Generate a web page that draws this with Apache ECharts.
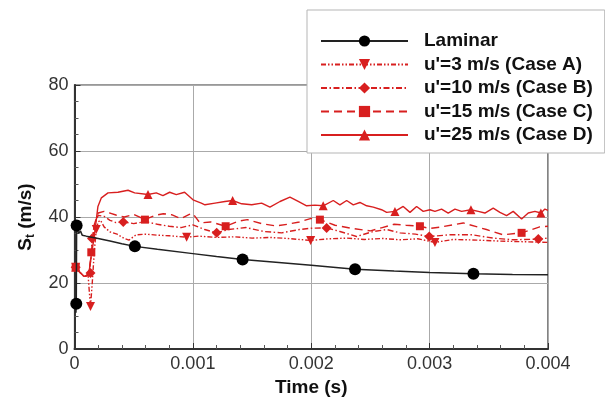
<!DOCTYPE html>
<html>
<head>
<meta charset="utf-8">
<script src="https://cdn.jsdelivr.net/npm/echarts@6/dist/echarts.min.js"></script>
<style>
  html, body { margin: 0; background: #fff; }
  #chart { width: 605px; height: 397px; }
</style>
</head>
<body>
<div id="chart"></div>
<script>
// time in ms (axis labels show seconds), S_t in m/s; third field = 1 where a marker sits
const laminar = [
  [0.012, 11], [0.015, 13.7, 1], [0.018, 37.4, 1], [0.035, 35], [0.05, 35.8], [0.065, 34.5],
  [0.1, 34.2], [0.2, 33.5], [0.3, 32.7], [0.4, 31.9], [0.51, 31.1, 1], [0.7, 30.2], [1.0, 28.9],
  [1.2, 28], [1.42, 27.1, 1], [1.7, 26.3], [2.0, 25.4], [2.37, 24.2, 1], [2.7, 23.6], [3.0, 23.2],
  [3.37, 22.8, 1], [3.7, 22.6], [4.0, 22.5]
];
const caseA = [
  [0.01, 24.8, 1], [0.04, 23.5], [0.08, 22], [0.115, 22.3], [0.128, 16], [0.135, 12.9, 1],
  [0.15, 20], [0.168, 30], [0.184, 36.2, 1], [0.2, 38.5], [0.22, 39], [0.25, 37], [0.3, 35.5],
  [0.36, 34.8], [0.42, 33.5], [0.46, 33], [0.52, 34.6], [0.6, 34.8], [0.7, 34.5], [0.8, 34.3],
  [0.947, 33.9, 1], [1.05, 34.2], [1.2, 33.8], [1.35, 34], [1.5, 33.6], [1.65, 33.8], [1.8, 33.5],
  [1.995, 32.9, 1], [2.15, 33.4], [2.3, 33.6], [2.45, 33.2], [2.6, 33.5], [2.75, 33.1], [2.9, 33.4],
  [3.045, 32.3, 1], [3.2, 33.2], [3.4, 33], [3.6, 32.7], [3.8, 32.5], [4.0, 32.3]
];
const caseB = [
  [0.01, 24.8, 1], [0.05, 23], [0.09, 22], [0.12, 22.5], [0.135, 23, 1], [0.142, 28],
  [0.148, 33.5, 1], [0.17, 38], [0.2, 40.5], [0.25, 40.2], [0.3, 39], [0.35, 38.3],
  [0.412, 38.5, 1], [0.5, 38], [0.6, 38.6], [0.7, 37.8], [0.8, 37.2], [0.9, 36.8], [1.0, 37.6],
  [1.1, 36.2], [1.201, 35.2, 1], [1.3, 36.2], [1.45, 36.8], [1.6, 35.6], [1.75, 35.2], [1.9, 36.2],
  [2.0, 36.6], [2.13, 36.7, 1], [2.242, 35.6], [2.383, 34.1], [2.524, 35.6], [2.637, 36.2],
  [2.75, 35.2], [2.88, 34.8], [2.997, 34.1, 1], [3.171, 34.6], [3.36, 34.6], [3.537, 33.6],
  [3.706, 33.1], [3.918, 33.3, 1], [4.0, 33.6]
];
const caseC = [
  [0.01, 24.8, 1], [0.05, 23], [0.09, 22], [0.125, 23], [0.142, 29.3, 1], [0.17, 38], [0.2, 41.2],
  [0.25, 41.7], [0.3, 41.2], [0.35, 40.6], [0.42, 40], [0.5, 40.8], [0.595, 39.2, 1], [0.68, 40.5],
  [0.75, 41], [0.82, 40.7], [0.9, 39.5], [0.97, 40.8], [1.0, 41], [1.06, 38.2], [1.15, 38.5],
  [1.277, 37.2, 1], [1.38, 38.7], [1.46, 39.2], [1.58, 38], [1.7, 37.3], [1.8, 37.8], [1.9, 38.5],
  [2.0, 39.6], [2.073, 39.2, 1], [2.2, 37.5], [2.35, 36.5], [2.5, 35.8], [2.6, 36.8], [2.7, 37.8],
  [2.8, 37.5], [2.918, 37.2, 1], [3.0, 36.5], [3.1, 37], [3.284, 38.2], [3.48, 36.2], [3.62, 34.6],
  [3.777, 35.2, 1], [3.93, 37], [4.0, 37.2]
];
const caseD = [
  [0.01, 24.8, 1], [0.04, 23.5], [0.08, 22], [0.12, 22.5], [0.14, 28], [0.165, 33.6], [0.198, 43.2],
  [0.227, 45.8], [0.283, 47.3], [0.367, 47.5], [0.452, 48.1], [0.508, 47.3], [0.621, 46.8, 1],
  [0.691, 47.3], [0.747, 46.5], [0.804, 47.5], [0.86, 46.8], [0.93, 47.5], [1.001, 45.2],
  [1.071, 44.2], [1.102, 43.7], [1.187, 44.2], [1.271, 44.7], [1.336, 45, 1], [1.412, 44],
  [1.497, 43.7], [1.581, 44.2], [1.651, 43], [1.736, 44.7], [1.82, 46], [1.89, 44.7], [1.961, 43.4],
  [2.031, 43.6], [2.101, 43.4, 1], [2.186, 45], [2.242, 43.7], [2.299, 45], [2.355, 43.7],
  [2.411, 44.4], [2.468, 43.4], [2.524, 43], [2.594, 42.2], [2.637, 41.4], [2.707, 41.7, 1],
  [2.777, 43.2], [2.834, 41.4], [2.89, 43.2], [2.946, 41.7], [3.003, 42.2], [3.045, 41.7],
  [3.101, 42.4], [3.157, 41.2], [3.214, 42.4], [3.27, 41.7], [3.349, 42.2, 1], [3.411, 41.7],
  [3.467, 41.2], [3.537, 42.7], [3.594, 41.4], [3.65, 40.4], [3.706, 41.7], [3.777, 39.4],
  [3.833, 41.2], [3.889, 41.7], [3.94, 41.2, 1], [3.974, 42.4], [4.0, 42]
];
const seriesNames = ['Laminar', "u'=3 m/s (Case A)", "u'=10 m/s (Case B)", "u'=15 m/s (Case C)", "u'=25 m/s (Case D)"];
const xTicks = [0, 1, 2, 3, 4];
const xTickLabels = ['0', '0.001', '0.002', '0.003', '0.004'];

const RED = '#d81f1f';
const FONT = '"Liberation Sans", Arial, Helvetica, sans-serif';

function pts(arr) {
  return arr.map((p) => (p[2] ? { value: [p[0], p[1]] } : { value: [p[0], p[1]], symbol: 'none' }));
}

function redLine(name, arr, symbol, dash, extra) {
  return Object.assign({
    name,
    type: 'line',
    data: pts(arr),
    symbol,
    symbolSize: 9,
    showSymbol: true,
    itemStyle: { color: RED },
    lineStyle: { color: RED, width: 1.4, type: dash },
    z: 2,
  }, extra || {});
}

const chart = echarts.init(document.getElementById('chart'), null, { renderer: 'canvas' });

const option = {
  animation: false,
  backgroundColor: '#fff',
  textStyle: { fontFamily: FONT },
  grid: {
    left: 74.5, right: 57, top: 85, bottom: 48,
    outerBoundsMode: 'none',
    show: true, borderColor: '#333', borderWidth: 1.2, backgroundColor: 'transparent',
  },
  legend: {
    orient: 'vertical',
    left: 307,
    top: 10,
    padding: [21.5, 12, 8.5, 13],
    backgroundColor: '#fff',
    borderColor: '#b5b5b5',
    borderWidth: 1,
    itemWidth: 87,
    itemHeight: 14,
    itemGap: 4.5,
    data: seriesNames,
    textStyle: { fontFamily: FONT, fontSize: 19, fontWeight: 'bold', color: '#111', padding: [0, 0, 0, 11] },
  },
  xAxis: {
    type: 'value',
    min: 0, max: 4, interval: 1,
    name: 'Time (s)',
    nameLocation: 'middle',
    nameGap: 29,
    nameTextStyle: { fontFamily: FONT, fontSize: 19, fontWeight: 'bold', color: '#111' },
    axisLine: { lineStyle: { color: '#333', width: 2 } },
    axisTick: { inside: true, length: 6, lineStyle: { color: '#333' } },
    minorTick: { show: true, splitNumber: 5, length: 4, lineStyle: { color: '#555' } },
    axisLabel: {
      fontFamily: FONT, fontSize: 18, color: '#333', margin: 6,
      formatter: (v) => xTickLabels[xTicks.indexOf(v)] ?? '',
    },
    splitLine: { show: true, lineStyle: { color: '#aaa', width: 1 } },
  },
  yAxis: {
    type: 'value',
    min: 0, max: 80, interval: 20,
    name: '{s|S}{sub|t}{s| (m/s)}',
    nameLocation: 'middle',
    nameGap: 38,
    nameRotate: 90,
    nameTextStyle: {
      rich: {
        s: { fontFamily: FONT, fontSize: 19, fontWeight: 'bold', color: '#111', lineHeight: 22 },
        sub: { fontFamily: FONT, fontSize: 12, fontWeight: 'bold', color: '#111', verticalAlign: 'bottom', lineHeight: 12, padding: [8, 0, 0, 0] },
      },
    },
    axisLine: { show: true, lineStyle: { color: '#333', width: 2 } },
    axisTick: { show: true, inside: true, length: 6, lineStyle: { color: '#333' } },
    minorTick: { show: true, splitNumber: 4, length: 4, lineStyle: { color: '#555' } },
    axisLabel: { fontFamily: FONT, fontSize: 18, color: '#333', margin: 6 },
    splitLine: { show: true, lineStyle: { color: '#aaa', width: 1 } },
  },
  series: [
    {
      name: seriesNames[0],
      type: 'line',
      data: pts(laminar),
      symbol: 'circle',
      symbolSize: 12,
      showSymbol: true,
      itemStyle: { color: '#000' },
      lineStyle: { color: '#222', width: 1.5 },
      z: 3,
    },
    redLine(seriesNames[1], caseA, 'triangle', [5, 2, 1.5, 2, 1.5, 2], { symbolRotate: 180 }),
    redLine(seriesNames[2], caseB, 'diamond', [6, 2.5, 1.5, 2.5], { symbolSize: 10 }),
    redLine(seriesNames[3], caseC, 'rect', [8, 5], { symbolSize: 8 }),
    redLine(seriesNames[4], caseD, 'triangle', 'solid'),
  ],
};

chart.setOption(option);
</script>
</body>
</html>
